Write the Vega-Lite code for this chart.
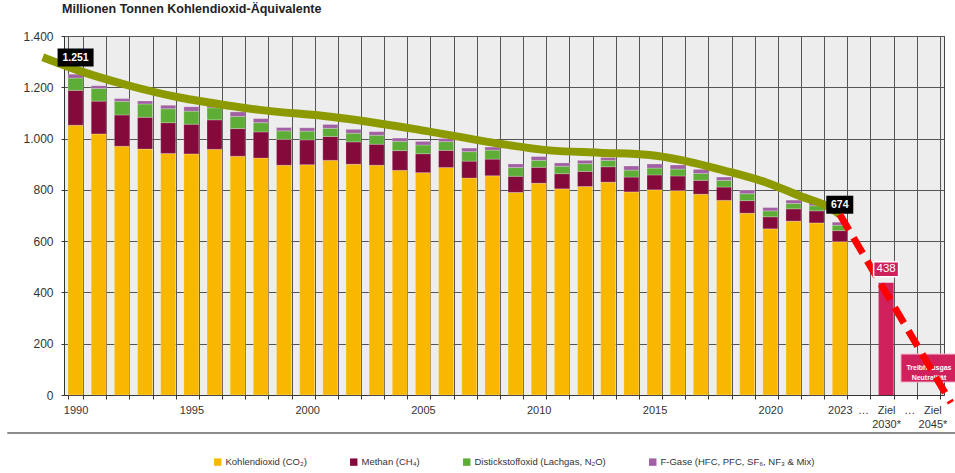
{
  "$schema": "https://vega.github.io/schema/vega-lite/v6.json",
  "width": 880,
  "height": 359,
  "autosize": {"type": "none"},
  "padding": {"left": 64, "top": 36, "right": 11, "bottom": 78},
  "background": "white",
  "config": {
    "view": {"fill": "#ededed", "stroke": "#444444", "strokeWidth": 1},
    "font": "Liberation Sans"
  },
  "title": {
    "text": "Millionen Tonnen Kohlendioxid-Äquivalente",
    "anchor": "start",
    "frame": "group",
    "fontSize": 12.5,
    "fontWeight": "bold",
    "color": "#222222",
    "offset": 15,
    "dx": -2
  },
  "datasets": {
    "emissionen": [
      {"jahr": "1990", "1 CO2": 1052, "2 CH4": 136, "3 N2O": 48, "4 FGase": 15},
      {"jahr": "1991", "1 CO2": 1018, "2 CH4": 128, "3 N2O": 49, "4 FGase": 11},
      {"jahr": "1992", "1 CO2": 970, "2 CH4": 122, "3 N2O": 53, "4 FGase": 11},
      {"jahr": "1993", "1 CO2": 959, "2 CH4": 124, "3 N2O": 52, "4 FGase": 12},
      {"jahr": "1994", "1 CO2": 942, "2 CH4": 120, "3 N2O": 54, "4 FGase": 14},
      {"jahr": "1995", "1 CO2": 940, "2 CH4": 116, "3 N2O": 51, "4 FGase": 17},
      {"jahr": "1996", "1 CO2": 958, "2 CH4": 115, "3 N2O": 47, "4 FGase": 12},
      {"jahr": "1997", "1 CO2": 931, "2 CH4": 108, "3 N2O": 47, "4 FGase": 18},
      {"jahr": "1998", "1 CO2": 924, "2 CH4": 102, "3 N2O": 36, "4 FGase": 16},
      {"jahr": "1999", "1 CO2": 896, "2 CH4": 101, "3 N2O": 33, "4 FGase": 13},
      {"jahr": "2000", "1 CO2": 898, "2 CH4": 97, "3 N2O": 34, "4 FGase": 13},
      {"jahr": "2001", "1 CO2": 915, "2 CH4": 93, "3 N2O": 32, "4 FGase": 15},
      {"jahr": "2002", "1 CO2": 900, "2 CH4": 87, "3 N2O": 34, "4 FGase": 15},
      {"jahr": "2003", "1 CO2": 896, "2 CH4": 82, "3 N2O": 35, "4 FGase": 14},
      {"jahr": "2004", "1 CO2": 876, "2 CH4": 77, "3 N2O": 36, "4 FGase": 13},
      {"jahr": "2005", "1 CO2": 867, "2 CH4": 74, "3 N2O": 34, "4 FGase": 14},
      {"jahr": "2006", "1 CO2": 887, "2 CH4": 67, "3 N2O": 34, "4 FGase": 12},
      {"jahr": "2007", "1 CO2": 846, "2 CH4": 66, "3 N2O": 37, "4 FGase": 14},
      {"jahr": "2008", "1 CO2": 855, "2 CH4": 65, "3 N2O": 35, "4 FGase": 12},
      {"jahr": "2009", "1 CO2": 790, "2 CH4": 63, "3 N2O": 34, "4 FGase": 14},
      {"jahr": "2010", "1 CO2": 826, "2 CH4": 62, "3 N2O": 27, "4 FGase": 15},
      {"jahr": "2011", "1 CO2": 804, "2 CH4": 59, "3 N2O": 29, "4 FGase": 13},
      {"jahr": "2012", "1 CO2": 813, "2 CH4": 59, "3 N2O": 30, "4 FGase": 13},
      {"jahr": "2013", "1 CO2": 830, "2 CH4": 60, "3 N2O": 25, "4 FGase": 11},
      {"jahr": "2014", "1 CO2": 792, "2 CH4": 58, "3 N2O": 27, "4 FGase": 16},
      {"jahr": "2015", "1 CO2": 800, "2 CH4": 58, "3 N2O": 27, "4 FGase": 16},
      {"jahr": "2016", "1 CO2": 797, "2 CH4": 57, "3 N2O": 27, "4 FGase": 16},
      {"jahr": "2017", "1 CO2": 783, "2 CH4": 54, "3 N2O": 27, "4 FGase": 16},
      {"jahr": "2018", "1 CO2": 759, "2 CH4": 52, "3 N2O": 26, "4 FGase": 13},
      {"jahr": "2019", "1 CO2": 709, "2 CH4": 49, "3 N2O": 27, "4 FGase": 14},
      {"jahr": "2020", "1 CO2": 648, "2 CH4": 47, "3 N2O": 23, "4 FGase": 13},
      {"jahr": "2021", "1 CO2": 678, "2 CH4": 48, "3 N2O": 21, "4 FGase": 13},
      {"jahr": "2022", "1 CO2": 671, "2 CH4": 47, "3 N2O": 20, "4 FGase": 12},
      {"jahr": "2023", "1 CO2": 598, "2 CH4": 43, "3 N2O": 21, "4 FGase": 12}
    ],
    "ziel": [{"jahr": "Ziel 2030*", "wert": 438}],
    "trend": [
      {"pos": -1.42, "wert": 1317},
      {"pos": 0.17, "wert": 1264},
      {"pos": 2.33, "wert": 1206},
      {"pos": 4.49, "wert": 1160},
      {"pos": 6.65, "wert": 1128},
      {"pos": 7.94, "wert": 1112},
      {"pos": 11.1, "wert": 1084},
      {"pos": 14.73, "wert": 1036},
      {"pos": 18.31, "wert": 980},
      {"pos": 20.47, "wert": 954},
      {"pos": 22.63, "wert": 945},
      {"pos": 24.79, "wert": 936},
      {"pos": 26.22, "wert": 915},
      {"pos": 27.82, "wert": 880},
      {"pos": 28.38, "wert": 867},
      {"pos": 29.85, "wert": 828},
      {"pos": 31.28, "wert": 776},
      {"pos": 32.7, "wert": 724},
      {"pos": 33.0, "wert": 704}
    ],
    "zielpfad": [
      {"pos": 33.0, "wert": 704},
      {"pos": 37.8, "wert": -30}
    ],
    "trennlinie": [{"von": -2.95, "bis": 37.98, "wert": -148}],
    "beschriftung": [
      {"pos": 0, "wert": 1316, "text": "1.251"},
      {"pos": 33, "wert": 742, "text": "674"},
      {"pos": 35, "wert": 490, "text": "438"},
      {"pos": 36.85, "wert": 105, "text": "Treibhausgas\nNeutralität"}
    ]
  },
  "layer": [
    {
      "data": {"name": "emissionen"},
      "transform": [{"fold": ["1 CO2", "2 CH4", "3 N2O", "4 FGase"], "as": ["gas", "wert"]}],
      "mark": {"type": "bar", "stroke": "#ffffff", "strokeWidth": 0.4, "strokeOpacity": 0.6},
      "encoding": {
        "x": {
          "field": "jahr",
          "type": "nominal",
          "scale": {
            "domain": ["1990","1991","1992","1993","1994","1995","1996","1997","1998","1999","2000","2001","2002","2003","2004","2005","2006","2007","2008","2009","2010","2011","2012","2013","2014","2015","2016","2017","2018","2019","2020","2021","2022","2023","…1","Ziel 2030*","…2","Ziel 2045*"],
            "paddingInner": 0.35,
            "paddingOuter": 0.175
          },
          "axis": {
            "title": null,
            "labelAngle": 0,
            "tickBand": "extent",
            "grid": true,
            "gridColor": "#555555",
            "gridWidth": 1,
            "gridOpacity": 1,
            "domainColor": "#333333",
            "tickColor": "#333333",
            "tickSize": 4,
            "labelPadding": 5,
            "labelFontSize": 11,
            "labelColor": "#333333",
            "labelOverlap": false,
            "labelLineHeight": 14,
            "labelExpr": "datum.value == 'Ziel 2030*' ? ['Ziel', '2030*'] : datum.value == 'Ziel 2045*' ? ['Ziel', '2045*'] : (datum.value == '…1' || datum.value == '…2') ? '…' : indexof(['1990','1995','2000','2005','2010','2015','2020','2023'], datum.value) >= 0 ? datum.value : ''"
          }
        },
        "y": {
          "field": "wert",
          "type": "quantitative",
          "stack": "zero",
          "scale": {"domain": [0, 1400], "nice": false},
          "axis": {
            "title": null,
            "values": [0, 200, 400, 600, 800, 1000, 1200, 1400],
            "labelExpr": "replace(format(datum.value, ','), ',', '.')",
            "grid": true,
            "gridColor": "#555555",
            "gridOpacity": 1,
            "domainColor": "#333333",
            "tickColor": "#333333",
            "tickSize": 3,
            "labelPadding": 8,
            "labelFontSize": 12,
            "labelColor": "#333333"
          }
        },
        "order": {"field": "gas", "sort": "ascending"},
        "color": {
          "field": "gas",
          "type": "nominal",
          "scale": {
            "domain": ["1 CO2", "2 CH4", "3 N2O", "4 FGase"],
            "range": ["#F9B800", "#840A3C", "#5EAD36", "#A060A2"]
          },
          "legend": {
            "title": null,
            "orient": "none",
            "legendX": 149,
            "legendY": 421,
            "direction": "horizontal",
            "symbolType": "square",
            "symbolSize": 55,
            "symbolStrokeWidth": 0,
            "labelFont": "Liberation Sans",
            "labelFontSize": 9.5,
            "labelColor": "#333333",
            "labelLimit": 400,
            "columnPadding": 42,
            "labelOffset": 3,
            "labelExpr": "datum.label == '1 CO2' ? 'Kohlendioxid (CO₂)' : datum.label == '2 CH4' ? 'Methan (CH₄)' : datum.label == '3 N2O' ? 'Distickstoffoxid (Lachgas, N₂O)' : 'F-Gase (HFC, PFC, SF₆, NF₃ & Mix)'"
          }
        }
      }
    },
    {
      "data": {"name": "ziel"},
      "mark": {"type": "bar", "color": "#D0215C"},
      "encoding": {
        "x": {
          "field": "jahr",
          "type": "nominal",
          "scale": {
            "domain": ["1990","1991","1992","1993","1994","1995","1996","1997","1998","1999","2000","2001","2002","2003","2004","2005","2006","2007","2008","2009","2010","2011","2012","2013","2014","2015","2016","2017","2018","2019","2020","2021","2022","2023","…1","Ziel 2030*","…2","Ziel 2045*"],
            "paddingInner": 0.35,
            "paddingOuter": 0.175
          },
          "axis": null
        },
        "y": {"field": "wert", "type": "quantitative"}
      }
    },
    {
      "data": {"name": "trennlinie"},
      "mark": {"type": "rule", "color": "#666666", "strokeWidth": 1.5},
      "encoding": {
        "x": {"field": "von", "type": "quantitative", "scale": {"domain": [-0.5, 37.5], "nice": false, "zero": false}, "axis": null},
        "x2": {"field": "bis"},
        "y": {"field": "wert", "type": "quantitative"}
      }
    },
    {
      "data": {"name": "trend"},
      "mark": {"type": "line", "color": "#8C9A00", "strokeWidth": 8, "interpolate": "monotone", "strokeCap": "butt"},
      "encoding": {
        "x": {"field": "pos", "type": "quantitative", "scale": {"domain": [-0.5, 37.5], "nice": false, "zero": false}, "axis": null},
        "y": {"field": "wert", "type": "quantitative"}
      }
    },
    {
      "data": {"name": "beschriftung"},
      "transform": [{"filter": "datum.text == '1.251'"}],
      "mark": {"type": "point", "shape": "M-1,-0.5L1,-0.5L1,0.5L-1,0.5Z", "size": 1296, "filled": true, "color": "#000000", "opacity": 1},
      "encoding": {
        "x": {"field": "pos", "type": "quantitative", "scale": {"domain": [-0.5, 37.5], "nice": false, "zero": false}, "axis": null},
        "y": {"field": "wert", "type": "quantitative"}
      }
    },
    {
      "data": {"name": "beschriftung"},
      "transform": [{"filter": "datum.text == '674'"}],
      "mark": {"type": "point", "shape": "M-1,-0.667L1,-0.667L1,0.667L-1,0.667Z", "size": 729, "filled": true, "color": "#000000", "opacity": 1},
      "encoding": {
        "x": {"field": "pos", "type": "quantitative", "scale": {"domain": [-0.5, 37.5], "nice": false, "zero": false}, "axis": null},
        "y": {"field": "wert", "type": "quantitative"}
      }
    },
    {
      "data": {"name": "beschriftung"},
      "transform": [{"filter": "datum.text == '1.251' || datum.text == '674'"}],
      "mark": {"type": "text", "color": "#ffffff", "fontWeight": "bold", "fontSize": 10.5, "align": "center", "baseline": "middle"},
      "encoding": {
        "x": {"field": "pos", "type": "quantitative", "scale": {"domain": [-0.5, 37.5], "nice": false, "zero": false}, "axis": null},
        "y": {"field": "wert", "type": "quantitative"},
        "text": {"field": "text"}
      }
    },
    {
      "data": {"name": "beschriftung"},
      "transform": [{"filter": "indexof(datum.text, 'Treibhausgas') == 0"}],
      "mark": {"type": "point", "shape": "M-1,-0.5L1,-0.5L1,0.5L-1,0.5Z", "size": 3136, "filled": true, "color": "#D0215C", "opacity": 1, "stroke": "#f4b8cc", "strokeWidth": 1},
      "encoding": {
        "x": {"field": "pos", "type": "quantitative", "scale": {"domain": [-0.5, 37.5], "nice": false, "zero": false}, "axis": null},
        "y": {"field": "wert", "type": "quantitative"}
      }
    },
    {
      "data": {"name": "beschriftung"},
      "transform": [{"filter": "indexof(datum.text, 'Treibhausgas') == 0"}],
      "mark": {"type": "text", "color": "#ffffff", "fontWeight": "bold", "fontSize": 7, "align": "center", "baseline": "middle", "lineBreak": "\n", "lineHeight": 10},
      "encoding": {
        "x": {"field": "pos", "type": "quantitative", "scale": {"domain": [-0.5, 37.5], "nice": false, "zero": false}, "axis": null},
        "y": {"field": "wert", "type": "quantitative"},
        "text": {"field": "text"}
      }
    },
    {
      "data": {"name": "zielpfad"},
      "mark": {"type": "line", "color": "#FF0000", "strokeWidth": 7, "strokeDash": [18, 9], "strokeCap": "butt"},
      "encoding": {
        "x": {"field": "pos", "type": "quantitative", "scale": {"domain": [-0.5, 37.5], "nice": false, "zero": false}, "axis": null},
        "y": {"field": "wert", "type": "quantitative"}
      }
    },
    {
      "data": {"name": "beschriftung"},
      "transform": [{"filter": "datum.text == '438'"}],
      "mark": {"type": "point", "shape": "M-1,-0.6L1,-0.6L1,0.6L-1,0.6Z", "size": 625, "filled": true, "color": "#D0215C", "opacity": 1, "stroke": "#ffffff", "strokeWidth": 1.5},
      "encoding": {
        "x": {"field": "pos", "type": "quantitative", "scale": {"domain": [-0.5, 37.5], "nice": false, "zero": false}, "axis": null},
        "y": {"field": "wert", "type": "quantitative"}
      }
    },
    {
      "data": {"name": "beschriftung"},
      "transform": [{"filter": "datum.text == '438'"}],
      "mark": {"type": "text", "color": "#ffffff", "fontSize": 11.5, "align": "center", "baseline": "middle"},
      "encoding": {
        "x": {"field": "pos", "type": "quantitative", "scale": {"domain": [-0.5, 37.5], "nice": false, "zero": false}, "axis": null},
        "y": {"field": "wert", "type": "quantitative"},
        "text": {"field": "text"}
      }
    }
  ],
  "resolve": {"scale": {"x": "independent"}, "axis": {"x": "independent"}}
}
